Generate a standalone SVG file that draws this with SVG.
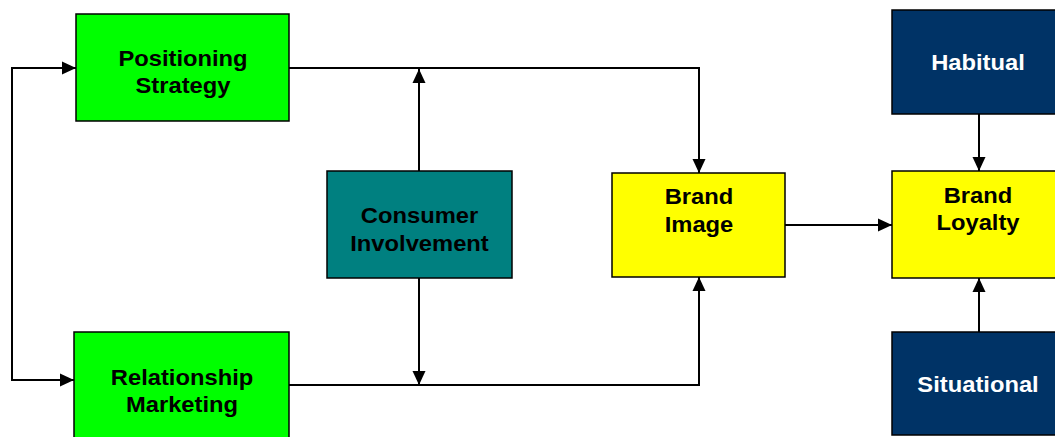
<svg xmlns="http://www.w3.org/2000/svg" width="1055" height="437" viewBox="0 0 1055 437">
<style>
.box{stroke:#000;stroke-width:1.5}
.g{fill:#00FF00}.t{fill:#008080}.y{fill:#FFFF00}.n{fill:#003366}
.lbl{font-family:"Liberation Sans",Arial,sans-serif;font-weight:bold;font-size:22px;text-anchor:middle;fill:#000}
.w{fill:#fff}
.c{fill:none;stroke:#000;stroke-width:2}
</style>
<defs>
<marker id="ah" markerUnits="userSpaceOnUse" markerWidth="15" markerHeight="15" viewBox="0 0 15 15" refX="14" refY="7.5" orient="auto">
<path d="M0,1 L14,7.5 L0,14 Z" fill="#000"/>
</marker>
</defs>
<rect width="1055" height="437" fill="#fff"/>
<g id="connectors">
<path class="c" d="M76,68 H12 V380 H74" marker-end="url(#ah)"/>
<path class="c" d="M12,68 H76" marker-end="url(#ah)"/>
<path class="c" d="M289,68 H699 V173" marker-end="url(#ah)"/>
<path class="c" d="M289,385 H699 V277" marker-end="url(#ah)"/>
<path class="c" d="M419,171 V69" marker-end="url(#ah)"/>
<path class="c" d="M419,278 V385" marker-end="url(#ah)"/>
<path class="c" d="M785,225 H892" marker-end="url(#ah)"/>
<path class="c" d="M979,114 V171" marker-end="url(#ah)"/>
<path class="c" d="M979,332 V278" marker-end="url(#ah)"/>
</g>
<g id="positioning">
<rect class="box g" x="76" y="14" width="213" height="107"/>
<text class="lbl" transform="matrix(1.08 0 0 1 183 0)" x="0" y="66">Positioning</text>
<text class="lbl" transform="matrix(1.08 0 0 1 183 0)" x="0" y="93">Strategy</text>
</g>
<g id="relationship">
<rect class="box g" x="74" y="332" width="215" height="110"/>
<text class="lbl" transform="matrix(1.08 0 0 1 182 0)" x="0" y="385">Relationship</text>
<text class="lbl" transform="matrix(1.08 0 0 1 182 0)" x="0" y="412">Marketing</text>
</g>
<g id="involvement">
<rect class="box t" x="327" y="171" width="185" height="107"/>
<text class="lbl" transform="matrix(1.08 0 0 1 419.5 0)" x="0" y="223">Consumer</text>
<text class="lbl" transform="matrix(1.08 0 0 1 419.5 0)" x="0" y="251">Involvement</text>
</g>
<g id="image">
<rect class="box y" x="612" y="173" width="173" height="104"/>
<text class="lbl" transform="matrix(1.08 0 0 1 699 0)" x="0" y="204">Brand</text>
<text class="lbl" transform="matrix(1.08 0 0 1 699 0)" x="0" y="232">Image</text>
</g>
<g id="habitual">
<rect class="box n" x="892" y="10" width="170" height="104"/>
<text class="lbl w" transform="matrix(1.08 0 0 1 978 0)" x="0" y="70">Habitual</text>
</g>
<g id="loyalty">
<rect class="box y" x="892" y="171" width="170" height="107"/>
<text class="lbl" transform="matrix(1.08 0 0 1 978 0)" x="0" y="203">Brand</text>
<text class="lbl" transform="matrix(1.08 0 0 1 978 0)" x="0" y="230">Loyalty</text>
</g>
<g id="situational">
<rect class="box n" x="892" y="332" width="170" height="103"/>
<text class="lbl w" transform="matrix(1.08 0 0 1 978 0)" x="0" y="392">Situational</text>
</g>
</svg>
